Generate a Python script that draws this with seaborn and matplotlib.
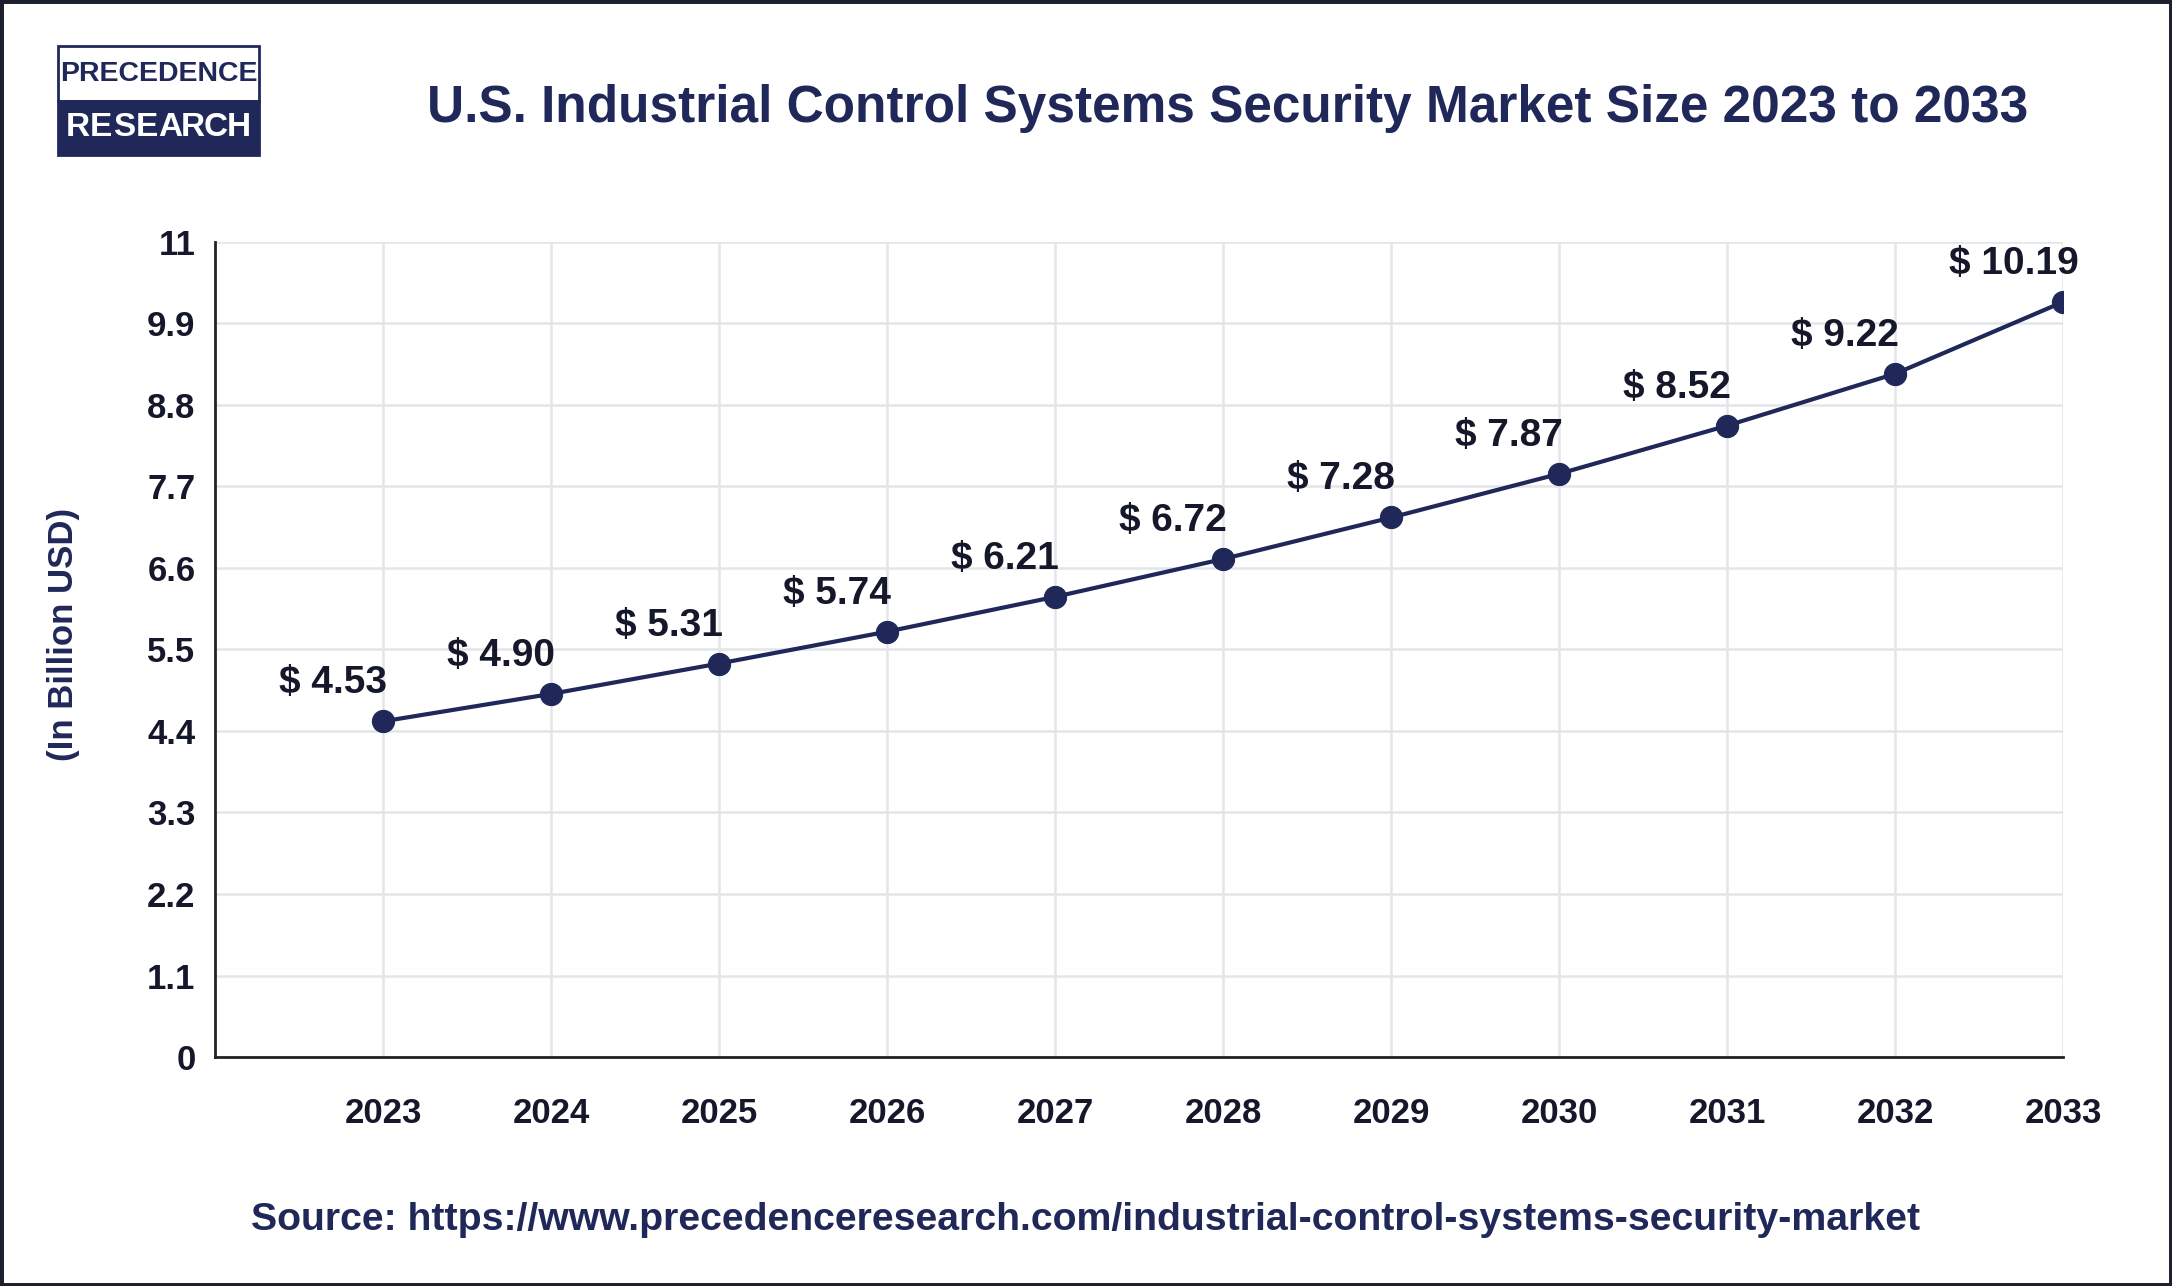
import numpy as np
import pandas as pd
import matplotlib
matplotlib.use("Agg")
import matplotlib.pyplot as plt
import seaborn as sns
from matplotlib.patches import Rectangle
from matplotlib import font_manager

years = [2023, 2024, 2025, 2026, 2027, 2028, 2029, 2030, 2031, 2032, 2033]
market_size = [4.53, 4.90, 5.31, 5.74, 6.21, 6.72, 7.28, 7.87, 8.52, 9.22, 10.19]
y_ticks = [0, 1.1, 2.2, 3.3, 4.4, 5.5, 6.6, 7.7, 8.8, 9.9, 11]
y_tick_labels = ["0", "1.1", "2.2", "3.3", "4.4", "5.5", "6.6", "7.7", "8.8", "9.9", "11"]

title = "U.S. Industrial Control Systems Security Market Size 2023 to 2033"
source = "Source: https://www.precedenceresearch.com/industrial-control-systems-security-market"

navy = "#1f2858"
text_dark = "#15172a"


def main():
    sns.set_style("white")
    plt.rcParams["font.family"] = ["Liberation Sans", "DejaVu Sans"]

    installed = {f.name for f in font_manager.fontManager.ttflist}
    has_narrow = "Liberation Sans Narrow" in installed
    narrow = ["Liberation Sans Narrow", "DejaVu Sans"] if has_narrow else ["Liberation Sans", "DejaVu Sans"]
    tick_fs = 28 if has_narrow else 25

    df = pd.DataFrame({"year": years, "size": market_size})

    fig = plt.figure(figsize=(21.72, 12.86), dpi=100)
    fig.patch.set_facecolor("white")
    ax = fig.add_axes([0.099, 0.178, 0.851, 0.634])

    sns.lineplot(data=df, x="year", y="size", ax=ax, color=navy, linewidth=3,
                 marker="o", markersize=16, markeredgecolor=navy, zorder=3)

    ax.set_xlim(2022, 2033)
    ax.set_ylim(0, 11)
    ax.set_xticks(years)
    ax.set_xticklabels([str(y) for y in years], fontsize=tick_fs, fontweight="bold",
                       color=text_dark, family=narrow)
    ax.set_yticks(y_ticks)
    ax.set_yticklabels(y_tick_labels, fontsize=tick_fs, fontweight="bold",
                       color=text_dark, family=narrow)
    ax.tick_params(axis="x", length=0, pad=29)
    ax.tick_params(axis="y", length=0, pad=14)
    ax.grid(True, color="#e4e5e8", linewidth=1.8)
    ax.set_axisbelow(True)
    for s in ["top", "right"]:
        ax.spines[s].set_visible(False)
    for s in ["left", "bottom"]:
        ax.spines[s].set_color("#222222")
        ax.spines[s].set_linewidth(2)
    ax.set_xlabel("")
    ax.set_ylabel("(In Billion USD)", fontsize=25, fontweight="bold", color=navy)
    ax.yaxis.set_label_coords(-0.073, 0.519)

    # value labels, up-left of each point
    for x, v in zip(years, market_size):
        ax.annotate(f"$ {v:.2f}", (x, v), xytext=(-50, 38), textcoords="offset pixels",
                    ha="center", va="center", fontsize=28, fontweight="bold", color=text_dark)

    fig.text(0.565, 0.916, title, ha="center", va="center", fontsize=37,
             fontweight="bold", color=navy)
    fig.text(0.5, 0.051, source, ha="center", va="center", fontsize=28.3,
             fontweight="bold", color=navy)

    # logo
    lx, ly, lw, lh = 58 / 2172, 1 - 155 / 1286, 201 / 2172, 109 / 1286
    fig.patches.append(Rectangle((lx, ly + lh / 2), lw, lh / 2, transform=fig.transFigure,
                                 facecolor="white", edgecolor=navy, linewidth=2))
    fig.patches.append(Rectangle((lx, ly), lw, lh / 2, transform=fig.transFigure,
                                 facecolor=navy, edgecolor=navy, linewidth=2))
    fig.text(lx + lw / 2, ly + lh * 0.74, "PRECEDENCE", ha="center", va="center",
             fontsize=27 if has_narrow else 20.5, color=navy, fontweight="bold", family=narrow)
    word = "RESEARCH"
    for i, ch in enumerate(word):
        fig.text(lx + lw * (0.1 + 0.8 * i / (len(word) - 1)), ly + lh * 0.25, ch,
                 ha="center", va="center", fontsize=28 if has_narrow else 24,
                 color="white", fontweight="bold", family=narrow)

    # outer frame
    fig.patches.append(Rectangle((0, 0), 1, 1, transform=fig.transFigure, fill=False,
                                 edgecolor="#1b1f2e", linewidth=5))

    fig.savefig("out.png", dpi=100)
    plt.close(fig)


if __name__ == "__main__":
    main()
